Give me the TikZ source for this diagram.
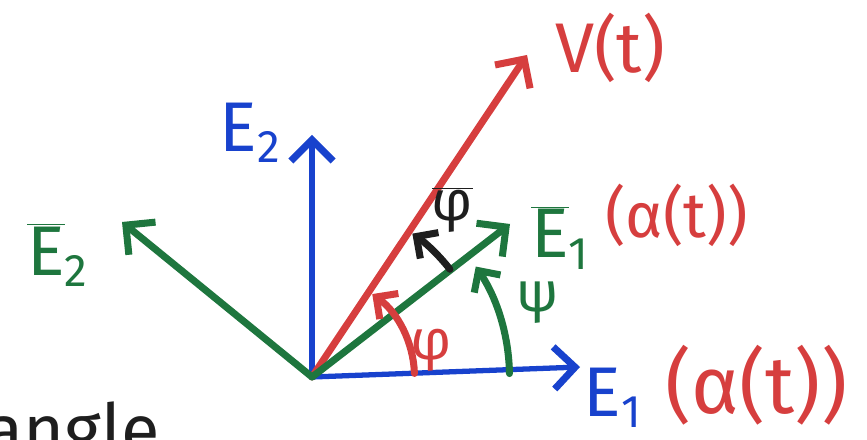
\documentclass[tikz,border=0pt]{standalone}
\usepackage{fontspec}
\setmainfont{Fira Sans}
\usetikzlibrary{arrows.meta,calc}

\definecolor{penred}{RGB}{214,62,62}
\definecolor{penblue}{RGB}{24,66,205}
\definecolor{pengreen}{RGB}{30,118,62}
\definecolor{penblack}{RGB}{30,30,30}

\newcommand{\penbar}[1]{$\overline{\mbox{#1}}$}
\newcommand{\pensub}[1]{\raisebox{-0.3ex}{\fontsize{26}{28}\selectfont #1}}

\begin{document}
\begin{tikzpicture}[
    vec/.style={line width=4pt, line cap=round, -{Straight Barb[length=12pt, width=24pt, line width=4pt]}},
    angarr/.style={line width=4pt, line cap=round, -{Straight Barb[length=9pt, width=18pt, line width=4pt]}},
    lbl/.style={font=\fontsize{40}{44}\selectfont, inner sep=0pt},
    greek/.style={font=\fontsize{32}{36}\selectfont, inner sep=0pt},
]
\useasboundingbox (0,0) rectangle (17.34,8.8);

% frame vectors
\coordinate (o) at (6.24,1.26);
\coordinate (e1) at (11.6,1.46);
\coordinate (e2) at (6.24,6.1);
\coordinate (eb1) at (10.2,4.32);
\coordinate (eb2) at (2.44,4.36);
\coordinate (v) at (10.54,7.7);

\draw[vec, penblue, line width=3pt] (o) -- (e1);
\draw[vec, penblue, line width=3pt] (o) -- (e2);
\draw[vec, penred] (o) -- (v);
\draw[vec, pengreen] (o) -- (eb1);
\draw[vec, pengreen] (o) -- (eb2);

% angles
\draw[angarr, penred] ($(o)+(2:2.05)$) arc[start angle=2, end angle=54, radius=2.05];
\draw[angarr, penblack] ($(o)+(38:3.5)$) arc[start angle=38, end angle=55, radius=3.5];
\draw[angarr, pengreen] ($(o)+(1:3.95)$) arc[start angle=1, end angle=34, radius=3.95];

% labels
\node[lbl, penred] (vlbl) at (12.2,7.85) {V(t)};
\node[lbl, penblue] (e2lbl) at (5.0,6.15) {E\pensub{2}};
\node[lbl, pengreen] (eb1lbl) at (11.2,4.05) {\penbar{E}\pensub{1}};
\node[font=\fontsize{36}{40}\selectfont, inner sep=0pt, penred, anchor=west] (alpha1) at (12.1,4.5) {(α(t))};
\node[lbl, pengreen] (eb2lbl) at (1.15,3.7) {\penbar{E}\pensub{2}};
\node[lbl, penblue] (e1lbl) at (12.25,0.85) {E\pensub{1}};
\node[font=\fontsize{46}{50}\selectfont, inner sep=0pt, penred, anchor=west] (alpha2) at (13.3,1.1) {(α(t))};
\node[greek, penred] (philbl) at (8.62,1.8) {φ};
\node[greek, penblack] (phiblbl) at (9.05,4.6) {\penbar{φ}};
\node[greek, pengreen] (psilbl) at (10.75,2.75) {ψ};

% cut-off word at the lower edge
\begin{scope}
\clip (0,0) rectangle (17.34,8.8);
\node[font=\fontsize{40}{44}\selectfont, inner sep=0pt, penblack, anchor=base west] (word) at (-0.3,-0.3) {angle};
\end{scope}
\end{tikzpicture}
\end{document}
